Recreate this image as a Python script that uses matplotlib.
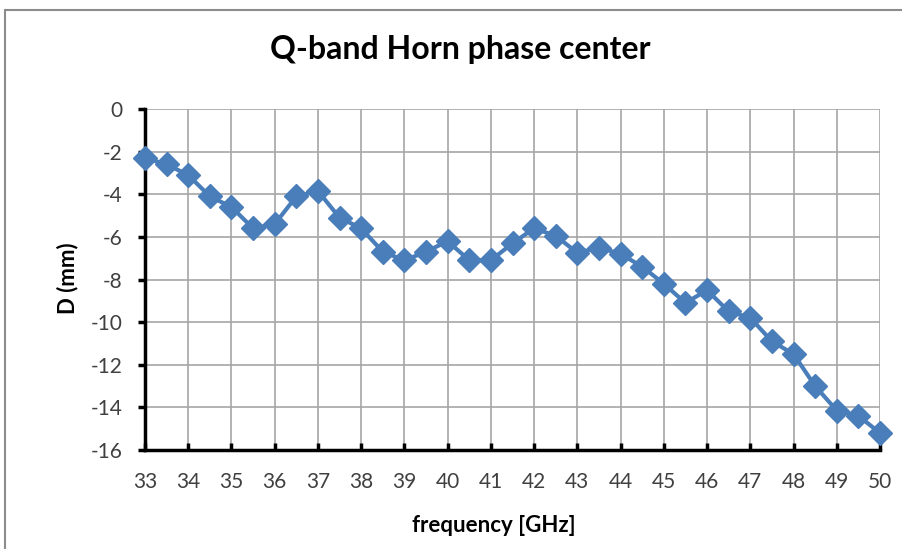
import numpy as np
import matplotlib
matplotlib.use('Agg')
import matplotlib.pyplot as plt
from matplotlib.patches import Rectangle

# frequency in GHz, phase center offset D in mm
freq = [33, 33.5, 34, 34.5, 35, 35.5, 36, 36.5, 37, 37.5, 38, 38.5, 39, 39.5,
        40, 40.5, 41, 41.5, 42, 42.5, 43, 43.5, 44, 44.5, 45, 45.5, 46, 46.5,
        47, 47.5, 48, 48.5, 49, 49.5, 50]
D = [-2.3, -2.6, -3.1, -4.1, -4.6, -5.6, -5.4, -4.1, -3.85, -5.1, -5.6, -6.7,
     -7.1, -6.7, -6.2, -7.1, -7.1, -6.3, -5.6, -5.95, -6.75, -6.5, -6.8, -7.4,
     -8.2, -9.1, -8.5, -9.5, -9.8, -10.9, -11.5, -13.0, -14.15, -14.4, -15.2]
xticks = list(range(33, 51))
yticks = list(range(-16, 1, 2))

plt.rcParams['font.family'] = ['Lato', 'DejaVu Sans']
plt.rcParams['axes.unicode_minus'] = False

fig = plt.figure(figsize=(9.03, 5.49), dpi=100)
W, H = 903, 549
ax = fig.add_axes([145 / W, 1 - 450 / H, (880 - 145) / W, (450 - 109) / H])

# chart area border (Excel style)
fig.patches.append(Rectangle((5 / W, -0.05), 1.0, 1 - 10 / H + 0.05,
                             transform=fig.transFigure, fill=False,
                             edgecolor='#8c8c8c', linewidth=1.5))

ax.plot(freq, D, color='#4a7ebb', linewidth=3, marker='D', markersize=12.5,
        clip_on=False, zorder=3)

ax.set_xlim(33, 50)
ax.set_ylim(-16, 0)
ax.set_xticks(xticks)
ax.set_yticks(yticks)
ax.grid(True, color='#a6a6a6', linewidth=1.2)
ax.set_axisbelow(True)

for s in ['top', 'right']:
    ax.spines[s].set_visible(False)
for s in ['left', 'bottom']:
    ax.spines[s].set_linewidth(2.5)
    ax.spines[s].set_color('black')

ax.tick_params(axis='x', direction='in', length=5, width=2.5, labelsize=15,
               pad=16, labelcolor='#404040')
ax.tick_params(axis='y', direction='out', length=5, width=2.5, labelsize=15,
               pad=11, labelcolor='#404040')

fig.text(460 / W, 1 - 50 / H, 'Q-band Horn phase center', fontsize=23,
         fontweight='bold', ha='center', va='center')
fig.text(494 / W, 1 - 525 / H, 'frequency [GHz]', fontsize=16,
         fontweight='bold', ha='center', va='center')
fig.text(68 / W, 1 - 278 / H, 'D (mm)', fontsize=16, fontweight='bold',
         ha='center', va='center', rotation=90)

fig.savefig('out.png', dpi=100)
